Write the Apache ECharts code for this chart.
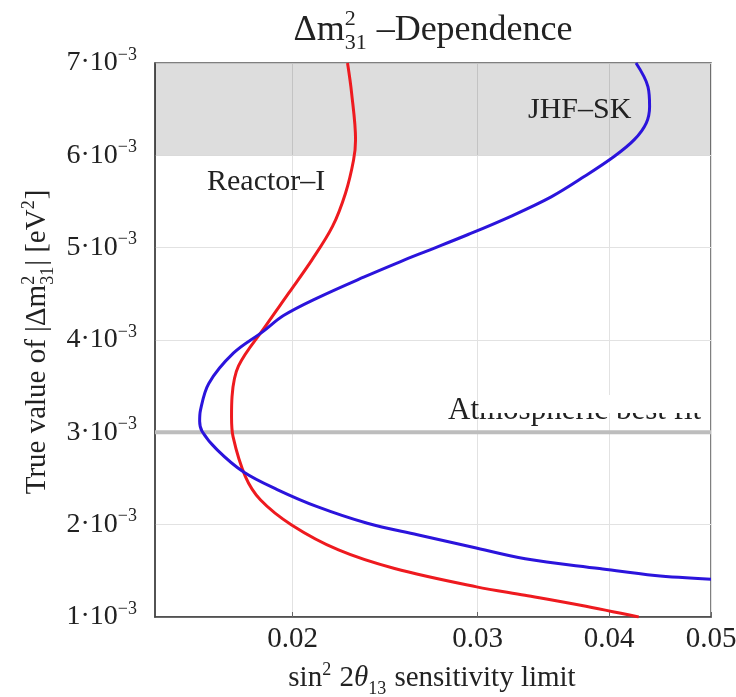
<!DOCTYPE html>
<html>
<head>
<meta charset="utf-8">
<script src="https://cdn.jsdelivr.net/npm/echarts@6/dist/echarts.min.js"></script>
<style>
  html, body { margin: 0; padding: 0; background: #fff; }
  #chart { width: 736px; height: 697px; }
</style>
</head>
<body>
<div id="chart"></div>
<script>
// ticks and axis ranges
const xTicks = [0.02, 0.03, 0.04, 0.05];
const xMin = 0.0148, xMax = 0.05;
const yMin = 0.001, yMax = 0.007, yStep = 0.001;

// Reactor-I curve: true dm^2_31 [eV^2] and sensitivity limit
const reactorDm2 = [0.00700, 0.00668, 0.00617, 0.00595, 0.00559, 0.00523, 0.004868, 0.00451, 0.004142,
  0.003719, 0.00339, 0.00317, 0.00295, 0.00252, 0.00227, 0.001997, 0.001726, 0.001525, 0.001326,
  0.001235, 0.001127, 0.00100];
const reactorLimit = [0.02256, 0.02276, 0.02296, 0.02286, 0.02246, 0.02183, 0.02087, 0.01984, 0.01883,
  0.01777, 0.01752, 0.01750, 0.01756, 0.01804, 0.01864, 0.01996, 0.02212, 0.02501, 0.02993,
  0.03327, 0.03758, 0.04268];

// JHF-SK curve
const jhfDm2 = [0.00700, 0.006745, 0.00653, 0.00635, 0.00617, 0.00599, 0.00577, 0.00555, 0.00534,
  0.00514, 0.004966, 0.00485, 0.004681, 0.004457, 0.004265, 0.004088, 0.00386, 0.00353, 0.00324,
  0.00312, 0.00301, 0.00281, 0.00257, 0.00238, 0.002195, 0.002015, 0.00189, 0.001755, 0.00163,
  0.001525, 0.00145, 0.00141];
const jhfLimit = [0.04243, 0.04355, 0.04371, 0.04339, 0.04227, 0.04047, 0.03788, 0.03524, 0.03226,
  0.02934, 0.02687, 0.02534, 0.02337, 0.02113, 0.01961, 0.01873, 0.01758, 0.01665, 0.01635,
  0.01632, 0.01641, 0.01696, 0.01797, 0.01934, 0.02111, 0.02356, 0.02629, 0.02969, 0.03329,
  0.03917, 0.04423, 0.05000];

// excluded band and atmospheric best fit
const bandRange = [0.006, 0.007];
const atmBestFit = 0.003;

const FONT = '"Liberation Serif","Times New Roman",serif';
const measureCtx = document.createElement('canvas').getContext('2d');
function textW(s, size, italic) {
  measureCtx.font = (italic ? 'italic ' : '') + size + 'px ' + FONT;
  return measureCtx.measureText(s).width;
}

// lay out a run of text with super/subscripts, centred on cx, on a baseline
function mathText(pieces, cx, baseline) {
  const items = [];
  let x = 0;
  pieces.forEach(p => {
    if (p.t != null) {
      items.push({ x, dy: 0, text: p.t, size: p.size, italic: p.italic });
      x += textW(p.t, p.size, p.italic);
    } else {
      let w = 0;
      if (p.sup) { items.push({ x, dy: -p.up, text: p.sup, size: p.size }); w = Math.max(w, textW(p.sup, p.size)); }
      if (p.sub) { items.push({ x, dy: p.down, text: p.sub, size: p.size }); w = Math.max(w, textW(p.sub, p.size)); }
      x += w + 1;
    }
  });
  const x0 = cx - x / 2;
  return items.map(it => ({
    type: 'text',
    x: x0 + it.x,
    y: baseline + it.dy - 0.34 * it.size,
    silent: true,
    style: {
      text: it.text,
      font: (it.italic ? 'italic ' : '') + it.size + 'px ' + FONT,
      fill: '#222',
      textAlign: 'left',
      textVerticalAlign: 'middle'
    }
  }));
}

function plainText(text, left, baseline, size) {
  return {
    type: 'text', x: left, y: baseline - 0.34 * size, silent: true, z: 100,
    style: { text, font: size + 'px ' + FONT, fill: '#222', textAlign: 'left', textVerticalAlign: 'middle' }
  };
}

const titleEls = mathText([
  { t: 'Δm', size: 36 },
  { sup: '2', sub: '31', size: 22, up: 16, down: 8 },
  { t: ' –Dependence', size: 36 }
], 433, 43);

const xNameEls = mathText([
  { t: 'sin', size: 29 },
  { sup: '2', size: 18, up: 12 },
  { t: ' 2', size: 29 },
  { t: 'θ', size: 29, italic: true },
  { sub: '13', size: 18, down: 7 },
  { t: ' sensitivity limit', size: 29 }
], 432, 688);

const yNameEls = mathText([
  { t: 'True value of |Δm', size: 29 },
  { sup: '2', sub: '31', size: 18, up: 12, down: 7 },
  { t: '| [eV', size: 29 },
  { sup: '2', size: 18, up: 12 },
  { t: ']', size: 29 }
], 0, 0);

const atmLeft = 448, atmSize = 31;
const coverLeft = atmLeft + textW('At', atmSize);

const chart = echarts.init(document.getElementById('chart'));

const option = {
  animation: false,
  backgroundColor: '#fff',
  grid: {
    left: 155, right: 25, top: 63, bottom: 80,
    containLabel: false,
    outerBoundsMode: 'none',
    show: true,
    borderColor: '#555',
    borderWidth: 1.5
  },
  xAxis: {
    type: 'log',
    logBase: 10,
    min: xMin,
    max: xMax,
    axisLine: { show: true, lineStyle: { color: '#444', width: 1.5 } },
    axisTick: { show: true, inside: true, length: 5, customValues: xTicks, lineStyle: { color: '#666' } },
    splitLine: { show: true, lineStyle: { color: '#e2e2e2', width: 1 } },
    minorTick: { show: false },
    minorSplitLine: { show: false },
    axisLabel: {
      customValues: xTicks,
      margin: 8,
      fontFamily: FONT,
      fontSize: 29,
      color: '#222',
      formatter: v => v.toFixed(2)
    }
  },
  yAxis: {
    type: 'value',
    min: yMin,
    max: yMax,
    interval: yStep,
    axisLine: { show: true, lineStyle: { color: '#444', width: 1.5 } },
    axisTick: { show: false },
    splitLine: { show: true, lineStyle: { color: '#e2e2e2', width: 1 } },
    axisLabel: {
      margin: 18,
      formatter: v => '{m|' + Math.round(v * 1000) + '·10}{s|−3}',
      rich: {
        m: { fontFamily: FONT, fontSize: 28, color: '#222', lineHeight: 34, verticalAlign: 'middle' },
        s: { fontFamily: FONT, fontSize: 18, color: '#222', lineHeight: 34, verticalAlign: 'top' }
      }
    }
  },
  series: [
    {
      name: 'Atmospheric best fit',
      type: 'line',
      data: [[xMin, atmBestFit], [xMax, atmBestFit]],
      showSymbol: false,
      silent: true,
      lineStyle: { color: '#bdbdbd', width: 4 },
      z: 2,
      markArea: {
        silent: true,
        itemStyle: { color: 'rgba(0,0,0,0.135)' },
        data: [[{ yAxis: bandRange[0] }, { yAxis: bandRange[1] }]]
      }
    },
    {
      name: 'Reactor-I',
      type: 'line',
      data: reactorLimit.map((x, i) => [x, reactorDm2[i]]),
      showSymbol: false,
      smooth: 0.35,
      lineStyle: { color: '#ee1a1f', width: 3 },
      z: 3
    },
    {
      name: 'JHF-SK',
      type: 'line',
      data: jhfLimit.map((x, i) => [x, jhfDm2[i]]),
      showSymbol: false,
      smooth: 0.35,
      lineStyle: { color: '#2b14dc', width: 3 },
      z: 3
    }
  ],
  graphic: [
    { type: 'group', z: 100, children: titleEls },
    { type: 'group', z: 100, children: xNameEls },
    { type: 'group', z: 100, x: 47, y: 342, rotation: Math.PI / 2, children: yNameEls },
    plainText('Reactor–I', 207, 192, 30),
    plainText('JHF–SK', 528, 120, 30),
    plainText('Atmospheric best fit', atmLeft, 421, atmSize),
    {
      type: 'rect', z: 101, silent: true,
      shape: { x: coverLeft, y: 395, width: 708 - coverLeft, height: 18 },
      style: { fill: '#fff' }
    }
  ]
};

chart.setOption(option);
</script>
</body>
</html>
